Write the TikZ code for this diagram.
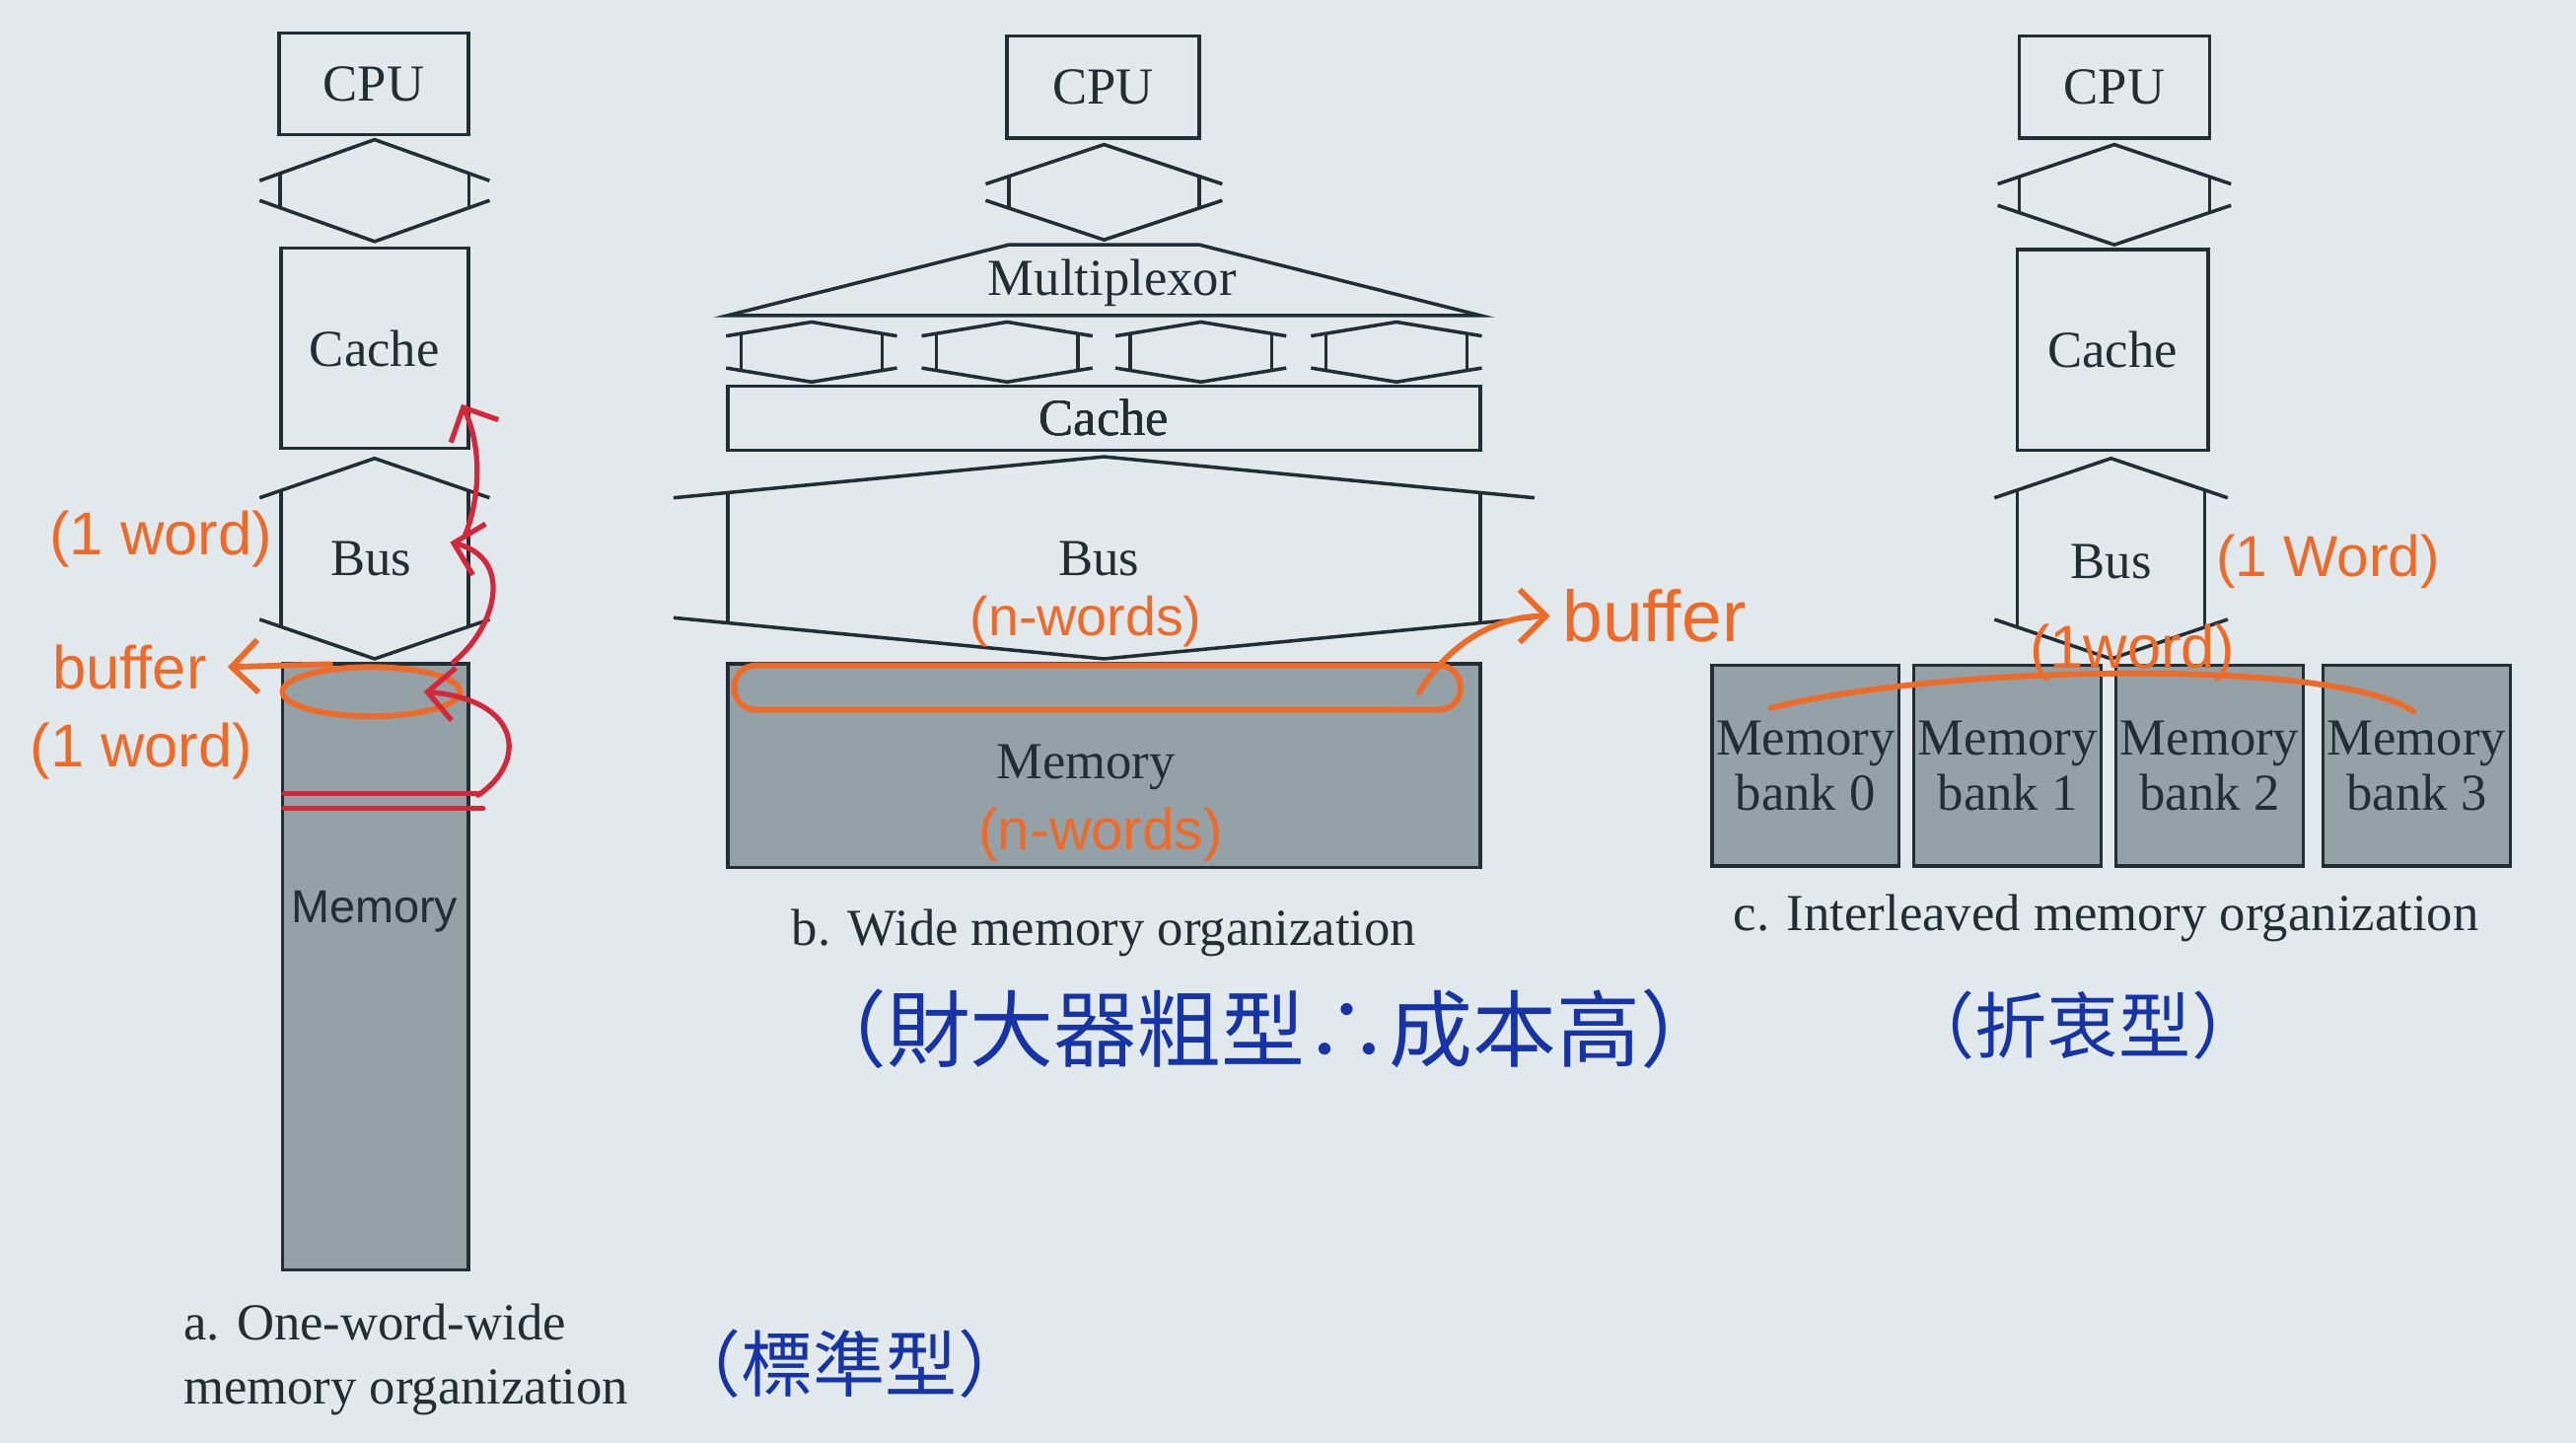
\documentclass[tikz,border=0pt]{standalone}
\usepackage{fontspec}
\setmainfont{Liberation Serif}
\setsansfont{Liberation Sans}
\newfontfamily\cjkhand{Noto Sans CJK TC}
\usetikzlibrary{positioning,arrows.meta,shapes.geometric,calc}
\definecolor{paper}{RGB}{226,233,237}
\definecolor{ink}{RGB}{35,45,52}
\definecolor{memgray}{RGB}{148,162,168}
\definecolor{pen}{RGB}{238,106,40}
\definecolor{redpen}{RGB}{212,40,58}
\definecolor{bluepen}{RGB}{22,52,165}

% bus / link symbol: centre x, top apex y, bottom apex y, bar half width, arm half width, arm drop
\newcommand{\hexlink}[6]{%
  \draw[link] ({#1-#5},{#2+#6}) -- (#1,#2) -- ({#1+#5},{#2+#6});
  \draw[link] ({#1-#5},{#3-#6}) -- (#1,#3) -- ({#1+#5},{#3-#6});
  \draw[link] ({#1-#4},{#2+#6*#4/#5}) -- ({#1-#4},{#3-#6*#4/#5});
  \draw[link] ({#1+#4},{#2+#6*#4/#5}) -- ({#1+#4},{#3-#6*#4/#5});
}

\begin{document}
\begin{tikzpicture}[
  x=0.1mm, y=-0.1mm,
  font=\fontsize{9}{11}\selectfont,
  >={Straight Barb[length=1.6mm]},
  box/.style={draw=ink, line width=0.6pt, inner sep=0pt, text=ink},
  mem/.style={box, fill=memgray},
  link/.style={draw=ink, line width=0.6pt},
  lbl/.style={text=ink, inner sep=0pt},
  hand/.style={text=pen, font=\sffamily\fontsize{10.5}{12}\selectfont, inner sep=0pt},
  penline/.style={draw=pen, line width=1pt, line cap=round},
  redline/.style={draw=redpen, line width=0.9pt, line cap=round},
  note/.style={text=bluepen, font=\cjkhand\fontsize{13}{15}\selectfont, inner sep=0pt},
]
\fill[paper] (0,0) rectangle (1568,878);
\useasboundingbox (0,0) rectangle (1568,878);

% ---- a. one-word-wide ----
\node[box, minimum width=11.5mm, minimum height=6.2mm] (cpuA) at (227.5,51) {CPU};
\node[box, minimum width=11.4mm, minimum height=12.2mm] (cacheA) at (228,212) {Cache};
\node[mem, minimum width=11.3mm, minimum height=36.9mm] (memA) at (228.5,588.5) {};
\node[lbl, font=\sffamily\fontsize{8}{9}\selectfont] (memAtxt) at (228,555) {Memory};
\node[lbl] (busA) at (226,340) {Bus};
\hexlink{228}{85}{147}{57.5}{70}{25}
\hexlink{228}{279}{401}{57}{70}{24}
\node[lbl, align=left, anchor=north west] (capA) at (111,793)
  {a. One-word-wide\\memory organization};

% ---- b. wide ----
\node[box, minimum width=11.7mm, minimum height=6.2mm] (cpuB) at (671.5,53) {CPU};
\hexlink{672}{88}{146}{58}{72}{24}
\draw[link] (443,192) -- (614,149) -- (730,149) -- (901,192) -- cycle;
\node[lbl] (muxB) at (677,172) {Multiplexor};
\foreach \cx in {494,613,731,850}
  \hexlink{\cx}{196}{232.5}{43}{52}{8.5}
\node[box, minimum width=45.8mm, minimum height=3.9mm] (cacheB) at (672,254.5) {Cache};
\hexlink{672}{278}{401}{229}{262}{25}
\node[lbl] (busB) at (669,340) {Bus};
\node[mem, minimum width=45.8mm, minimum height=12.4mm] (memB) at (672,466) {};
\node[lbl] (memBtxt) at (661,467) {Memory};
\node[lbl, below=2.4mm of memB] (capB) {b. Wide memory organization};

% ---- c. interleaved ----
\node[box, minimum width=11.6mm, minimum height=6.2mm] (cpuC) at (1287,53) {CPU};
\hexlink{1287}{88}{149}{58}{71}{24}
\node[box, minimum width=11.6mm, minimum height=12.2mm] (cacheC) at (1286,213) {Cache};
\hexlink{1285}{279}{401}{57}{71}{24}
\node[lbl] (busC) at (1285,342) {Bus};
\foreach \i/\cx in {0/1099,1/1222,2/1345,3/1471}
  \node[mem, minimum width=11.4mm, minimum height=12.2mm, align=center,
        font=\fontsize{9}{9.6}\selectfont] (bank\i) at (\cx,466) {Memory\\bank \i};
\node[lbl] (capC) at (1282,559) {c. Interleaved memory organization};

% ---- handwritten notes ----
\node[note, font=\cjkhand\fontsize{12.5}{14}\selectfont] (noteA) at (517,830) {（標準型）};
\node[note, font=\cjkhand\fontsize{14.5}{16}\selectfont] (noteB) at (769,626) {（財大器粗型∴成本高）};
\node[note, font=\cjkhand\fontsize{12.5}{14}\selectfont] (noteC) at (1268,624) {（折衷型）};

\node[hand] (wordA1) at (98,328) {(1 word)};
\node[hand] (bufA) at (79,406) {buffer};
\node[hand] (wordA2) at (86,457) {(1 word)};
\node[draw=pen, line width=1pt, ellipse, minimum width=10.8mm, minimum height=3mm,
      inner sep=0pt] (loopA) at (226,421) {};
\draw[penline, ->] ([xshift=-2.5mm]loopA.north) -- ([xshift=1.2mm]bufA.east);

% red read path
\coordinate (redA) at (291,484);
\coordinate (busAin) at (274,330);
\coordinate (busAout) at (283,326);
\coordinate (cacheAin) at (281,246);
\draw[redline] (173,483) -- (292,483);
\draw[redline] (173,492) -- (294,492);
\draw[redline, ->] (redA) .. controls +(30,-20) and +(60,5) .. ([xshift=3.2mm]loopA.center);
\draw[redline, ->] ([xshift=-1mm]memA.north east) .. controls +(25,-20) and +(40,10) .. (busAin);
\draw[redline, ->] (busAout) .. controls +(10,-25) and +(12,25) .. (cacheAin);

\node[hand, font=\sffamily\fontsize{9.5}{11}\selectfont] (nwBus) at (661,378) {(n-words)};
\node[hand, font=\sffamily\fontsize{10}{12}\selectfont] (nwMem) at (670,508) {(n-words)};
\node[draw=pen, line width=1pt, rounded corners=1.3mm, minimum width=44.2mm,
      minimum height=2.7mm, inner sep=0pt] (loopB) at (668,418.5) {};
\node[hand, font=\sffamily\fontsize{12.5}{14}\selectfont] (bufB) at (1007,375) {buffer};
\draw[penline, ->] ([xshift=-2.7mm,yshift=-0.3mm]loopB.east) .. controls +(13,-22) and +(-40,0) .. ([xshift=-0.7mm]bufB.west);

\node[hand, font=\sffamily\fontsize{10}{12}\selectfont] (wordC1) at (1417,342) {(1 Word)};
\node[hand] (wordC2) at (1298,397) {(1word)};
\draw[penline] ([yshift=-2.7mm]bank0.north west) ++(37,0) .. controls (1180,405) and (1420,400) .. (1469,433);

\end{tikzpicture}
\end{document}
